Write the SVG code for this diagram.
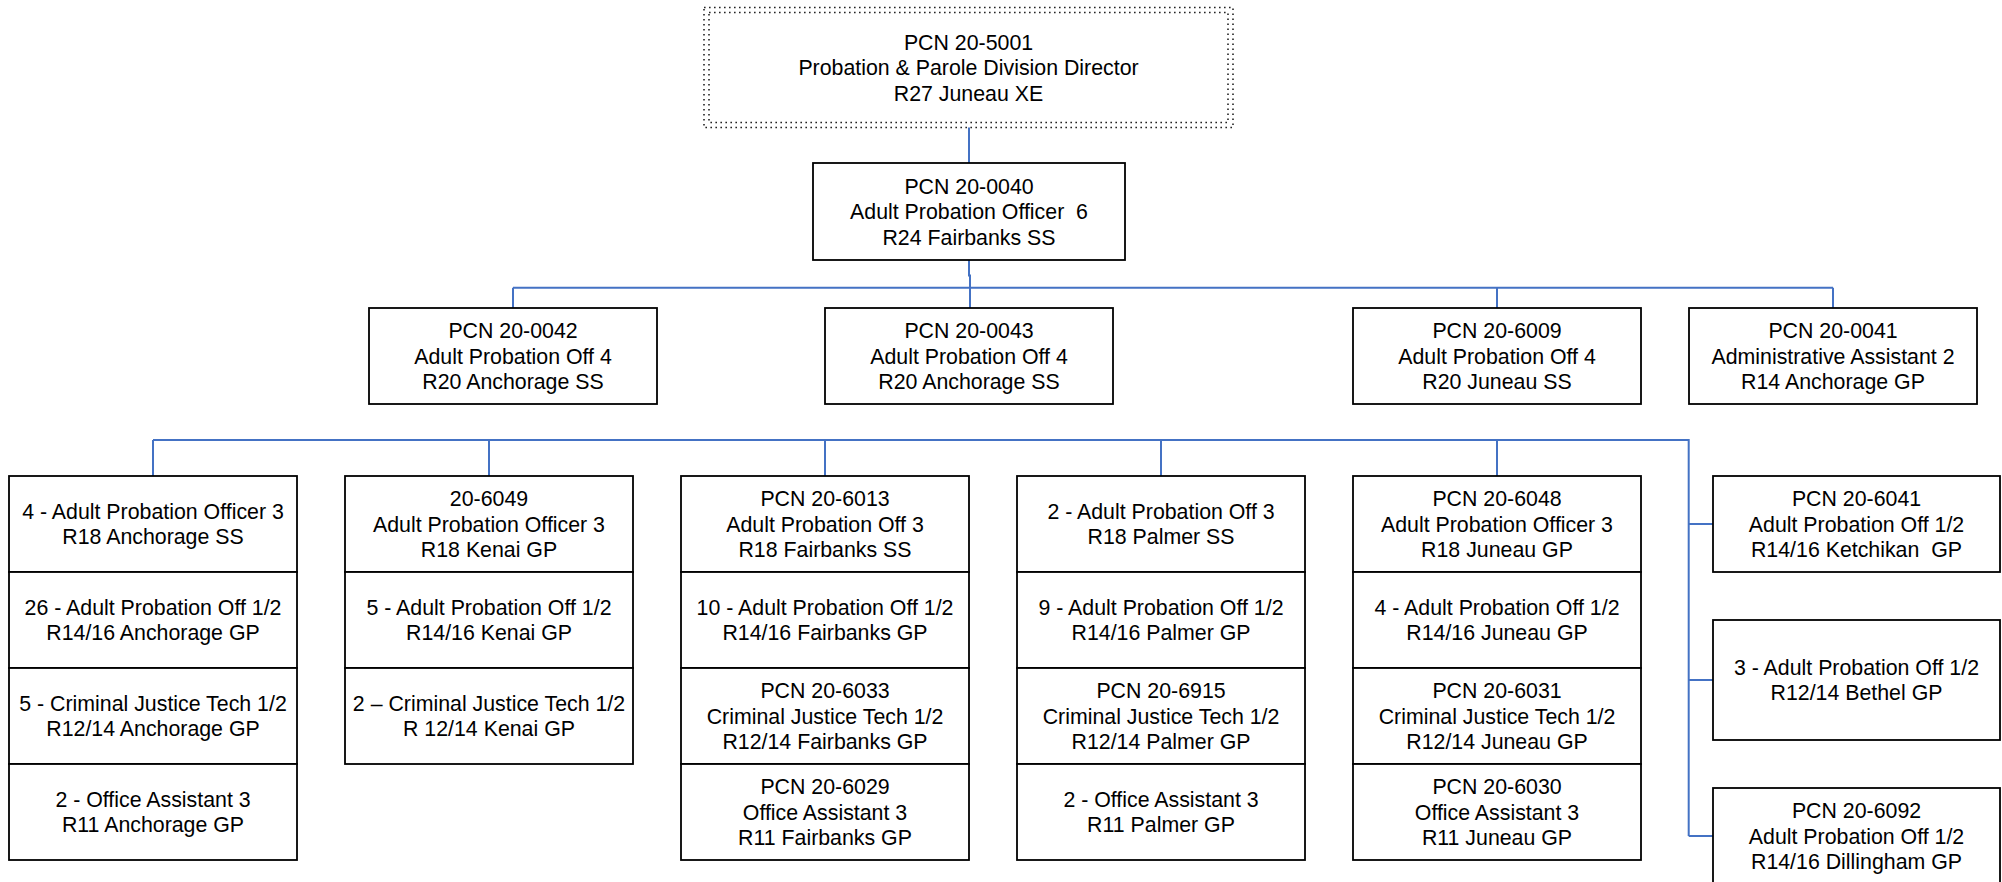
<svg xmlns="http://www.w3.org/2000/svg" width="2002" height="882" viewBox="0 0 2002 882">
<style>
.box{fill:#fff;stroke:#000;stroke-width:1.8}
.dot{fill:none;stroke:#222;stroke-width:1.6;stroke-dasharray:1.6 3.4}
.t{font-family:"Liberation Sans",Arial,sans-serif;font-size:21.33px;fill:#000;text-anchor:middle}
.c{fill:none;stroke:#4472C4;stroke-width:2}
</style>
<rect width="2002" height="882" fill="#fff"/>
<g id="connectors">
<path class="c" d="M969 127.5V163"/>
<path class="c" d="M969 260V275.5H970V308"/>
<path class="c" d="M513 287.7H1833M513 287.7V308M1497 287.7V308M1833 287.7V308"/>
<path class="c" d="M153 440H1688.7V836M153 440V476M489 440V476M825 440V476M1161 440V476M1497 440V476"/>
<path class="c" d="M1688.7 524H1713M1688.7 680H1713M1688.7 836H1713"/>
</g>
<g id="n5001">
<rect class="dot" x="704" y="7.5" width="529" height="120"/>
<rect class="dot" x="709" y="12.5" width="519" height="110"/>
<text class="t" x="968.5" y="49.5">PCN 20-5001</text>
<text class="t" x="968.5" y="75.1">Probation &amp; Parole Division Director</text>
<text class="t" x="968.5" y="100.7">R27 Juneau XE</text>
</g>
<g id="n0040">
<rect class="box" x="813" y="163" width="312" height="97"/>
<text class="t" x="969" y="193.5">PCN 20-0040</text>
<text class="t" x="969" y="219.1" xml:space="preserve">Adult Probation Officer  6</text>
<text class="t" x="969" y="244.7">R24 Fairbanks SS</text>
</g>
<g id="n0042">
<rect class="box" x="369" y="308" width="288" height="96"/>
<text class="t" x="513" y="338">PCN 20-0042</text>
<text class="t" x="513" y="363.6">Adult Probation Off 4</text>
<text class="t" x="513" y="389.2">R20 Anchorage SS</text>
</g>
<g id="n0043">
<rect class="box" x="825" y="308" width="288" height="96"/>
<text class="t" x="969" y="338">PCN 20-0043</text>
<text class="t" x="969" y="363.6">Adult Probation Off 4</text>
<text class="t" x="969" y="389.2">R20 Anchorage SS</text>
</g>
<g id="n6009">
<rect class="box" x="1353" y="308" width="288" height="96"/>
<text class="t" x="1497" y="338">PCN 20-6009</text>
<text class="t" x="1497" y="363.6">Adult Probation Off 4</text>
<text class="t" x="1497" y="389.2">R20 Juneau SS</text>
</g>
<g id="n0041">
<rect class="box" x="1689" y="308" width="288" height="96"/>
<text class="t" x="1833" y="338">PCN 20-0041</text>
<text class="t" x="1833" y="363.6">Administrative Assistant 2</text>
<text class="t" x="1833" y="389.2">R14 Anchorage GP</text>
</g>
<g id="col-anchorage">
<g id="anc1"><rect class="box" x="9" y="476" width="288" height="96"/>
<text class="t" x="153" y="518.8">4 - Adult Probation Officer 3</text>
<text class="t" x="153" y="544.4">R18 Anchorage SS</text></g>
<g id="anc2"><rect class="box" x="9" y="572" width="288" height="96"/>
<text class="t" x="153" y="614.8">26 - Adult Probation Off 1/2</text>
<text class="t" x="153" y="640.4">R14/16 Anchorage GP</text></g>
<g id="anc3"><rect class="box" x="9" y="668" width="288" height="96"/>
<text class="t" x="153" y="710.8">5 - Criminal Justice Tech 1/2</text>
<text class="t" x="153" y="736.4">R12/14 Anchorage GP</text></g>
<g id="anc4"><rect class="box" x="9" y="764" width="288" height="96"/>
<text class="t" x="153" y="806.8">2 - Office Assistant 3</text>
<text class="t" x="153" y="832.4">R11 Anchorage GP</text></g>
</g>
<g id="col-kenai">
<g id="ken1"><rect class="box" x="345" y="476" width="288" height="96"/>
<text class="t" x="489" y="506">20-6049</text>
<text class="t" x="489" y="531.6">Adult Probation Officer 3</text>
<text class="t" x="489" y="557.2">R18 Kenai GP</text></g>
<g id="ken2"><rect class="box" x="345" y="572" width="288" height="96"/>
<text class="t" x="489" y="614.8">5 - Adult Probation Off 1/2</text>
<text class="t" x="489" y="640.4">R14/16 Kenai GP</text></g>
<g id="ken3"><rect class="box" x="345" y="668" width="288" height="96"/>
<text class="t" x="489" y="710.8">2 – Criminal Justice Tech 1/2</text>
<text class="t" x="489" y="736.4">R 12/14 Kenai GP</text></g>
</g>
<g id="col-fairbanks">
<g id="fai1"><rect class="box" x="681" y="476" width="288" height="96"/>
<text class="t" x="825" y="506">PCN 20-6013</text>
<text class="t" x="825" y="531.6">Adult Probation Off 3</text>
<text class="t" x="825" y="557.2">R18 Fairbanks SS</text></g>
<g id="fai2"><rect class="box" x="681" y="572" width="288" height="96"/>
<text class="t" x="825" y="614.8">10 - Adult Probation Off 1/2</text>
<text class="t" x="825" y="640.4">R14/16 Fairbanks GP</text></g>
<g id="fai3"><rect class="box" x="681" y="668" width="288" height="96"/>
<text class="t" x="825" y="698">PCN 20-6033</text>
<text class="t" x="825" y="723.6">Criminal Justice Tech 1/2</text>
<text class="t" x="825" y="749.2">R12/14 Fairbanks GP</text></g>
<g id="fai4"><rect class="box" x="681" y="764" width="288" height="96"/>
<text class="t" x="825" y="794">PCN 20-6029</text>
<text class="t" x="825" y="819.6">Office Assistant 3</text>
<text class="t" x="825" y="845.2">R11 Fairbanks GP</text></g>
</g>
<g id="col-palmer">
<g id="pal1"><rect class="box" x="1017" y="476" width="288" height="96"/>
<text class="t" x="1161" y="518.8">2 - Adult Probation Off 3</text>
<text class="t" x="1161" y="544.4">R18 Palmer SS</text></g>
<g id="pal2"><rect class="box" x="1017" y="572" width="288" height="96"/>
<text class="t" x="1161" y="614.8">9 - Adult Probation Off 1/2</text>
<text class="t" x="1161" y="640.4">R14/16 Palmer GP</text></g>
<g id="pal3"><rect class="box" x="1017" y="668" width="288" height="96"/>
<text class="t" x="1161" y="698">PCN 20-6915</text>
<text class="t" x="1161" y="723.6">Criminal Justice Tech 1/2</text>
<text class="t" x="1161" y="749.2">R12/14 Palmer GP</text></g>
<g id="pal4"><rect class="box" x="1017" y="764" width="288" height="96"/>
<text class="t" x="1161" y="806.8">2 - Office Assistant 3</text>
<text class="t" x="1161" y="832.4">R11 Palmer GP</text></g>
</g>
<g id="col-juneau">
<g id="jun1"><rect class="box" x="1353" y="476" width="288" height="96"/>
<text class="t" x="1497" y="506">PCN 20-6048</text>
<text class="t" x="1497" y="531.6">Adult Probation Officer 3</text>
<text class="t" x="1497" y="557.2">R18 Juneau GP</text></g>
<g id="jun2"><rect class="box" x="1353" y="572" width="288" height="96"/>
<text class="t" x="1497" y="614.8">4 - Adult Probation Off 1/2</text>
<text class="t" x="1497" y="640.4">R14/16 Juneau GP</text></g>
<g id="jun3"><rect class="box" x="1353" y="668" width="288" height="96"/>
<text class="t" x="1497" y="698">PCN 20-6031</text>
<text class="t" x="1497" y="723.6">Criminal Justice Tech 1/2</text>
<text class="t" x="1497" y="749.2">R12/14 Juneau GP</text></g>
<g id="jun4"><rect class="box" x="1353" y="764" width="288" height="96"/>
<text class="t" x="1497" y="794">PCN 20-6030</text>
<text class="t" x="1497" y="819.6">Office Assistant 3</text>
<text class="t" x="1497" y="845.2">R11 Juneau GP</text></g>
</g>
<g id="n6041">
<rect class="box" x="1713" y="476" width="287" height="96"/>
<text class="t" x="1856.5" y="506">PCN 20-6041</text>
<text class="t" x="1856.5" y="531.6">Adult Probation Off 1/2</text>
<text class="t" x="1856.5" y="557.2" xml:space="preserve">R14/16 Ketchikan  GP</text>
</g>
<g id="bethel">
<rect class="box" x="1713" y="620" width="287" height="120"/>
<text class="t" x="1856.5" y="674.8">3 - Adult Probation Off 1/2</text>
<text class="t" x="1856.5" y="700.4">R12/14 Bethel GP</text>
</g>
<g id="n6092">
<rect class="box" x="1713" y="788" width="287" height="96"/>
<text class="t" x="1856.5" y="818">PCN 20-6092</text>
<text class="t" x="1856.5" y="843.6">Adult Probation Off 1/2</text>
<text class="t" x="1856.5" y="869.2">R14/16 Dillingham GP</text>
</g>
</svg>
